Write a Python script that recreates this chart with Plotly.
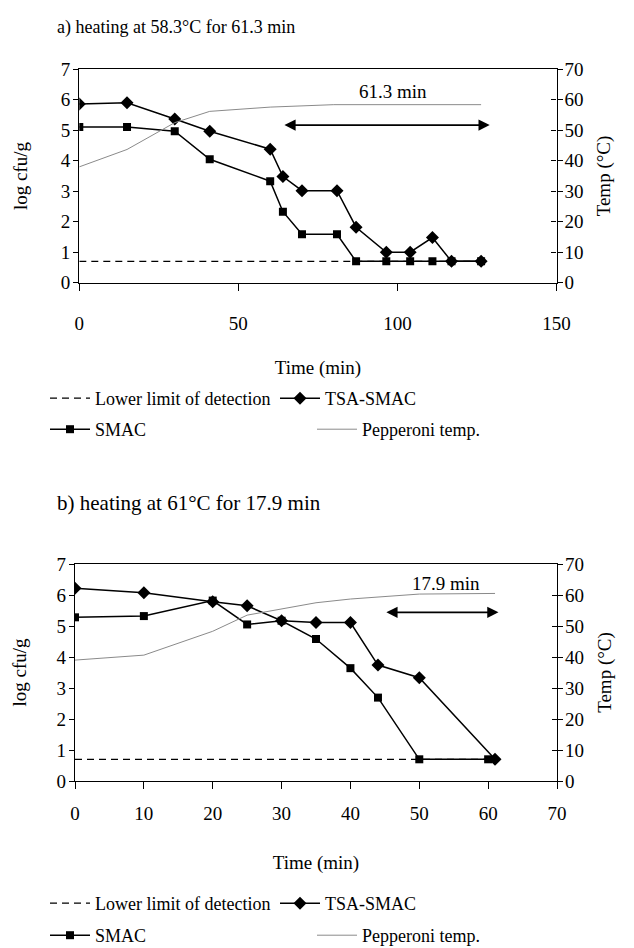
import plotly.graph_objects as go

# ---------------- data: panel a ----------------
a_tsa_t = [0, 15, 30, 41, 60, 64, 70, 81, 87, 96.5, 104, 111, 117, 126.3]
a_tsa_v = [5.86, 5.9, 5.37, 4.97, 4.38, 3.48, 3.02, 3.02, 1.82, 1.0, 1.0, 1.48, 0.7, 0.7]
a_smac_t = [0, 15, 30, 41, 60, 64, 70, 81, 87, 96.5, 104, 111, 117, 126.3]
a_smac_v = [5.11, 5.11, 4.97, 4.05, 3.33, 2.33, 1.59, 1.59, 0.7, 0.7, 0.7, 0.7, 0.7, 0.7]
a_temp_t = [0, 15, 30, 41, 60, 80, 126.3]
a_temp_v = [38.0, 43.7, 52.5, 56.2, 57.6, 58.4, 58.4]
a_lod_t = [0, 126.3]
a_lod_v = [0.7, 0.7]
a_arrow_t = [64, 129]
a_arrow_v = 5.17
a_label = "61.3 min"
a_label_t, a_label_v = 98.6, 6.27

# ---------------- data: panel b ----------------
b_tsa_t = [0, 10, 20, 25, 30, 35, 40, 44, 50, 61]
b_tsa_v = [6.22, 6.07, 5.78, 5.65, 5.17, 5.11, 5.11, 3.74, 3.33, 0.7]
b_smac_t = [0, 10, 20, 25, 30, 35, 40, 44, 50, 60]
b_smac_v = [5.28, 5.32, 5.82, 5.05, 5.17, 4.58, 3.64, 2.69, 0.7, 0.7]
b_temp_t = [0, 10, 20, 25, 35, 40, 50, 61]
b_temp_v = [39.0, 40.6, 48.3, 53.5, 57.5, 58.7, 60.3, 60.5]
b_lod_t = [0, 61]
b_lod_v = [0.7, 0.7]
b_arrow_t = [45, 61.5]
b_arrow_v = 5.44
b_label = "17.9 min"
b_label_t, b_label_v = 53.9, 6.38

names = ["Lower limit of detection", "TSA-SMAC", "SMAC", "Pepperoni temp."]
titles = ["a) heating at 58.3°C for 61.3 min", "b) heating at 61°C for 17.9 min"]

FONT = "Liberation Serif"
W, H = 634, 948

fig = go.Figure()


def add_panel(xa, ya, ya2, leg1, leg2, lod_t, lod_v, tsa_t, tsa_v, smac_t, smac_v, temp_t, temp_v):
    fig.add_trace(go.Scatter(x=temp_t, y=temp_v, xaxis=xa, yaxis=ya2, mode="lines",
                             line=dict(color="#8a8a8a", width=1), name=names[3],
                             legend=leg2, legendrank=2))
    fig.add_trace(go.Scatter(x=lod_t, y=lod_v, xaxis=xa, yaxis=ya, mode="lines",
                             line=dict(color="black", width=1.2, dash="7px,5px"), name=names[0],
                             legend=leg1, legendrank=1))
    fig.add_trace(go.Scatter(x=smac_t, y=smac_v, xaxis=xa, yaxis=ya, mode="lines+markers",
                             line=dict(color="black", width=1.5),
                             marker=dict(symbol="square", size=8, color="black"), name=names[2],
                             legend=leg2, legendrank=1))
    fig.add_trace(go.Scatter(x=tsa_t, y=tsa_v, xaxis=xa, yaxis=ya, mode="lines+markers",
                             line=dict(color="black", width=1.5),
                             marker=dict(symbol="diamond", size=10, color="black"), name=names[1],
                             legend=leg1, legendrank=2))


add_panel("x", "y", "y2", "legend", "legend2", a_lod_t, a_lod_v, a_tsa_t, a_tsa_v,
          a_smac_t, a_smac_v, a_temp_t, a_temp_v)
add_panel("x2", "y3", "y4", "legend3", "legend4", b_lod_t, b_lod_v, b_tsa_t, b_tsa_v,
          b_smac_t, b_smac_v, b_temp_t, b_temp_v)

tickfont = dict(family=FONT, size=19, color="black")
titlefont = dict(family=FONT, size=19, color="black")

def xax(domain, anchor, rng, dtick, lab_off, title_off):
    return dict(domain=domain, anchor=anchor, range=rng, dtick=dtick, tick0=0,
                showline=True, linecolor="black", linewidth=1.3, mirror=True,
                ticks="outside", ticklen=7, tickcolor="black", tickwidth=1.3,
                showgrid=False, zeroline=False, tickfont=tickfont, automargin=False,
                ticklabelstandoff=lab_off,
                title=dict(text="Time (min)", font=titlefont, standoff=title_off))

def yleft(domain, anchor, title_off):
    return dict(domain=domain, anchor=anchor, range=[0, 7], dtick=1, tick0=0,
                showline=True, linecolor="black", linewidth=1.3,
                ticks="outside", ticklen=5, tickcolor="black", tickwidth=1.3,
                showgrid=False, zeroline=False, tickfont=tickfont, automargin=False,
                ticklabelstandoff=-1,
                title=dict(text="log cfu/g", font=titlefont, standoff=title_off))

def yright(overlay, anchor, labels=True, ticks="outside"):
    d = dict(overlaying=overlay, anchor=anchor, side="right", range=[0, 70], dtick=10, tick0=0,
             showline=True, linecolor="black", linewidth=1.3,
             ticks=ticks, ticklen=5, tickcolor="black", tickwidth=1.3,
             showgrid=False, zeroline=False, tickfont=tickfont, automargin=False,
             showticklabels=labels)
    if labels:
        d["ticklabelstandoff"] = -2
        d["title"] = dict(text="Temp (°C)", font=titlefont, standoff=14)
    return d

ya_dom = [1 - 282.7 / H, 1 - 69.3 / H]
yb_dom = [1 - 781 / H, 1 - 564 / H]
xa_dom = [79.3 / W, 556.5 / W]
xb_dom = [75 / W, 557 / W]

legfont = dict(family=FONT, size=18, color="black")

def leg(top_px, ew):
    return dict(orientation="h", x=45 / W, y=1 - top_px / H, xanchor="left", yanchor="top",
                entrywidth=ew, entrywidthmode="pixels", font=legfont,
                bgcolor="rgba(0,0,0,0)", itemwidth=40, traceorder="normal")

fig.update_layout(
    template="none",
    width=W, height=H,
    margin=dict(l=0, r=0, t=0, b=0, autoexpand=False),
    paper_bgcolor="white", plot_bgcolor="white",
    font=dict(family=FONT, color="black"),
    xaxis=xax(xa_dom, "y", [0, 150], 50, 16, 28),
    yaxis=yleft(ya_dom, "x", 28),
    yaxis2=yright("y", "x"),
    yaxis5=yright("y", "x", labels=False, ticks="inside"),
    xaxis2=xax(xb_dom, "y3", [0, 70], 10, 8, 32),
    yaxis3=yleft(yb_dom, "x2", 24),
    yaxis4=yright("y3", "x2"),
    yaxis6=yright("y3", "x2", labels=False, ticks="inside"),
    legend=leg(380, 175),
    legend2=leg(411, 212),
    legend3=leg(885, 175),
    legend4=leg(917, 212),
)

# invisible traces so the crossing-tick helper axes are drawn
fig.add_trace(go.Scatter(x=[None], y=[None], xaxis="x", yaxis="y5", showlegend=False, hoverinfo="skip"))
fig.add_trace(go.Scatter(x=[None], y=[None], xaxis="x2", yaxis="y6", showlegend=False, hoverinfo="skip"))

ann = []
for xr, yr, arr_t, arr_v, lab, lt, lv in [("x", "y", a_arrow_t, a_arrow_v, a_label, a_label_t, a_label_v),
                                          ("x2", "y3", b_arrow_t, b_arrow_v, b_label, b_label_t, b_label_v)]:
    ann.append(dict(x=arr_t[1], y=arr_v, ax=arr_t[0], ay=arr_v, xref=xr, yref=yr,
                    axref=xr, ayref=yr, text="", showarrow=True, arrowhead=2,
                    arrowside="end+start", arrowsize=1.4, arrowwidth=1.6, arrowcolor="black"))
    ann.append(dict(x=lt, y=lv, xref=xr, yref=yr, text=lab, showarrow=False,
                    font=dict(family=FONT, size=19, color="black")))

ann.append(dict(x=55 / W, y=1 - 27 / H, xref="paper", yref="paper", text=titles[0],
                showarrow=False, xanchor="left", yanchor="middle",
                font=dict(family=FONT, size=18, color="black")))
ann.append(dict(x=55 / W, y=1 - 503 / H, xref="paper", yref="paper", text=titles[1],
                showarrow=False, xanchor="left", yanchor="middle",
                font=dict(family=FONT, size=21, color="black")))
fig.update_layout(annotations=ann)

fig.write_html("out.html", config={"displayModeBar": False},
               post_script="document.body.style.margin='0px';document.body.style.overflow='hidden';")
